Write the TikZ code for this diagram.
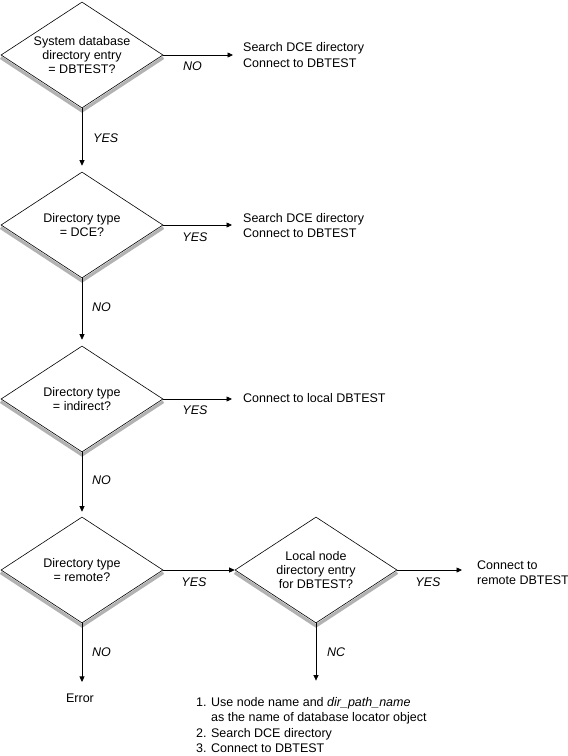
\documentclass[tikz,border=0pt]{standalone}
\usepackage{fontspec}
\setmainfont{Liberation Sans}
\usetikzlibrary{shapes.geometric,arrows.meta,backgrounds}
\begin{document}
\begin{tikzpicture}[x=1pt,y=-1pt,
  decision/.style={diamond,draw,line width=0.6pt,minimum width=162pt,minimum height=106pt,inner sep=0pt,aspect=1.53,align=center,font=\fontsize{12.5}{13.8}\selectfont},
  flow/.style={-{Triangle[length=5.5pt,width=5pt]},line width=0.7pt},
  lab/.style={font=\fontsize{12.5}{13.5}\selectfont\itshape,inner sep=0pt},
  vlab/.style={lab,anchor=west},
  txt/.style={align=left,anchor=west,inner sep=0pt,font=\fontsize{12.5}{15.5}\selectfont},
  shadeline/.style={draw=black!30,line width=3.2pt}
]
\useasboundingbox (0,0) rectangle (568,756);

% decisions
\node[decision] (d1) at (82,55) {System database\\directory entry\\= DBTEST?};
\node[decision] (d2) at (82,225) {Directory type\\= DCE?};
\node[decision] (d3) at (82,399) {Directory type\\= indirect?};
\node[decision] (d4) at (82,570) {Directory type\\= remote?};
\node[decision] (d5) at (316,570) {Local node\\directory entry\\for DBTEST?};

% shadows
\begin{scope}[on background layer]
  \foreach \d in {d1,d2,d3,d4,d5}{
    \draw[shadeline] ([yshift=-2.6pt]\d.west) -- ([yshift=-2.6pt]\d.south) -- ([yshift=-2.6pt]\d.east);
  }
\end{scope}

% outcome texts
\node[txt] (r1) at (243,55) {Search DCE directory\\Connect to DBTEST};
\node[txt] (r2) at (243,225.5) {Search DCE directory\\Connect to DBTEST};
\node[txt] (r3) at (243,398) {Connect to local DBTEST};
\node[txt] (r5) at (477,572.5) {Connect to\\remote DBTEST};
\node[inner sep=0pt,font=\fontsize{12.5}{13.5}\selectfont] (err) at (80,698) {Error};
\node[inner sep=0pt,anchor=base west,font=\fontsize{12.5}{15.3}\selectfont] (list) at (196,706.5)
  {\begin{tabular}[t]{@{}l@{\hspace{4.5pt}}l@{}}
   1. & Use node name and \textit{dir\_path\_name}\\
      & as the name of database locator object\\
   2. & Search DCE directory\\
   3. & Connect to DBTEST
   \end{tabular}};

% connectors
\draw[flow,shorten >=10pt] (d1.east) -- (d1.east -| r1.west);
\draw[flow,shorten >=11pt] (d2.east) -- (d2.east -| r2.west);
\draw[flow,shorten >=11pt] (d3.east) -- (d3.east -| r3.west);
\draw[flow] (d4.east) -- (d5.west);
\draw[flow,shorten >=15pt] (d5.east) -- (d5.east -| r5.west);
\draw[flow,shorten >=6pt] (d1.south) -- (d2.north);
\draw[flow,shorten >=6pt] (d2.south) -- (d3.north);
\draw[flow,shorten >=5pt] (d3.south) -- (d4.north);
\draw[flow,shorten >=11.5pt] (d4.south) -- (err.north -| d4.south);
\draw[flow,shorten >=15pt] (d5.south) -- (list.north -| d5.south);

% labels
\node[lab] (l1) at (192.5,66) {NO};
\node[lab] (l2) at (195,237) {YES};
\node[lab] (l3) at (195,410) {YES};
\node[lab] (l4) at (194,582) {YES};
\node[lab] (l5) at (428,582) {YES};
\node[vlab] (v1) at (93,138) {YES};
\node[vlab] (v2) at (92,307) {NO};
\node[vlab] (v3) at (92,480) {NO};
\node[vlab] (v4) at (92,652) {NO};
\node[vlab] (v5) at (327,652) {NC};
\end{tikzpicture}
\end{document}
